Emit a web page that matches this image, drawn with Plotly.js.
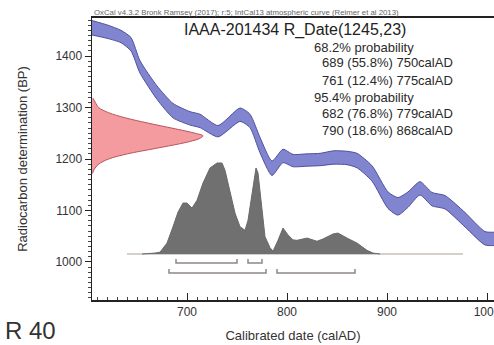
<!DOCTYPE html>
<html>
<head>
<meta charset="utf-8">
<script src="https://cdn.plot.ly/plotly-3.0.1.min.js"></script>
<style>
html,body{margin:0;padding:0;background:#fff;}
#chart{width:494px;height:345px;}
</style>
</head>
<body>
<div id="chart"></div>
<script>
// ---- Calibration curve (IntCal13): year AD, centre BP, half-width BP
const calYear  = [605, 621, 634, 644, 653, 670, 686, 703, 713, 731, 753, 763, 773, 785, 796, 806, 820, 833, 847, 860, 870, 885, 901, 911, 921, 933, 945, 958, 978, 998, 1010];
const calBP    = [1455,1447,1438,1423,1379,1329,1294,1279,1274,1254,1286,1274,1227,1182,1206,1197,1198,1199,1203,1202,1197,1172,1120,1108,1121,1143,1122,1116,1082,1046,1045];
const calHalf  = [14,  13,  12,  13,  12,  13,  14,  13,  13,  11,  13,  13,  15,  14,  13,  12,  12,  12,  13,  13,  14,  15,  16,  17,  15,  13,  13,  13,  14,  13,  13];

// ---- Radiocarbon date R_Date(1245,23): BP and relative density (red)
const redBP      = [1318, 1310, 1300, 1290, 1280, 1270, 1260, 1255, 1250, 1245, 1240, 1235, 1230, 1220, 1210, 1200, 1190, 1180, 1172];
const redDensity = [0.01, 0.03, 0.06, 0.15, 0.30, 0.50, 0.72, 0.83, 0.93, 1.00, 0.97, 0.90, 0.80, 0.56, 0.32, 0.15, 0.06, 0.02, 0.005];

// ---- Calibrated distribution (grey), year AD and relative probability
const histYear = [655, 663, 668, 673, 680, 686, 691, 696, 700, 705, 710, 716, 723, 730, 735, 738, 743, 748, 753, 758, 761, 765, 769, 771, 775, 778, 783, 786, 791, 796, 801, 806, 810, 820, 830, 836, 846, 851, 860, 870, 880, 886, 893];
const histProb = [0,   0.005,0.01,0.02,0.12,0.30,0.46,0.56,0.56,0.505,0.59,0.78,0.945,1.0,1.0,0.92,0.70,0.45,0.30,0.26,0.37,0.66,0.945,0.89,0.48,0.19,0.07,0.03,0.15,0.285,0.21,0.155,0.15,0.175,0.14,0.165,0.22,0.23,0.175,0.12,0.04,0.01,0];
const baseYear = [640, 976];

// ---- Calibrated ranges
const range68 = [[689, 750], [761, 775]];
const range95 = [[682, 779], [790, 868]];

// ---- Texts
const titleText  = "IAAA-201434 R_Date(1245,23)";
const headerText = "OxCal v4.3.2 Bronk Ramsey (2017); r:5; IntCal13 atmospheric curve (Reimer et al 2013)";
const probLines  = ["68.2% probability", "689 (55.8%) 750calAD", "761 (12.4%) 775calAD",
                    "95.4% probability", "682 (76.8%) 779calAD", "790 (18.6%) 868calAD"];
const yTicks = [1000, 1100, 1200, 1300, 1400];
const xTicks = [700, 800, 900, 1000];

const calUpper = calBP.map((v, i) => v + calHalf[i]);
const calLower = calBP.map((v, i) => v - calHalf[i]);

function bracket(ranges, level, top) {
  const x = [], y = [];
  ranges.forEach(r => { x.push(r[0], r[0], r[1], r[1], null); y.push(top, level, level, top, null); });
  return {x, y};
}
const b68 = bracket(range68, -0.099, -0.055);
const b95 = bracket(range95, -0.209, -0.165);

const traces = [
  { // red date distribution
    x: redDensity, y: redBP, xaxis: 'x2', yaxis: 'y', type: 'scatter', mode: 'lines',
    fill: 'tozerox', fillcolor: 'rgba(242,146,150,0.92)', line: {color: '#b9555e', width: 1, shape: 'spline'},
    hoverinfo: 'skip'
  },
  { // baseline of calibrated distribution
    x: baseYear, y: [0, 0], xaxis: 'x', yaxis: 'y2', type: 'scatter', mode: 'lines',
    line: {color: '#c9c0bc', width: 1.5}, hoverinfo: 'skip'
  },
  { // calibrated distribution
    x: histYear, y: histProb, xaxis: 'x', yaxis: 'y2', type: 'scatter', mode: 'lines',
    fill: 'tozeroy', fillcolor: '#707070', line: {color: '#6a6a6a', width: 1}, hoverinfo: 'skip'
  },
  { x: b68.x, y: b68.y, xaxis: 'x', yaxis: 'y2', type: 'scatter', mode: 'lines',
    line: {color: '#8e8686', width: 1.5}, connectgaps: false, hoverinfo: 'skip' },
  { x: b95.x, y: b95.y, xaxis: 'x', yaxis: 'y2', type: 'scatter', mode: 'lines',
    line: {color: '#8e8686', width: 1.5}, connectgaps: false, hoverinfo: 'skip' },
  { // calibration curve lower edge
    x: calYear, y: calLower, xaxis: 'x', yaxis: 'y', type: 'scatter', mode: 'lines',
    line: {color: '#4f509c', width: 1, shape: 'spline', smoothing: 0.6}, hoverinfo: 'skip'
  },
  { // calibration curve upper edge
    x: calYear, y: calUpper, xaxis: 'x', yaxis: 'y', type: 'scatter', mode: 'lines',
    fill: 'tonexty', fillcolor: '#8185d0', line: {color: '#4f509c', width: 1, shape: 'spline', smoothing: 0.6}, hoverinfo: 'skip'
  }
];

const W = 402, H = 282; // plot area in px
function px(xp) { return (xp - 92) / W; }
function py(yp) { return (300 - yp) / H; }

const probY = [47, 63, 80, 98, 113, 130];
const probX = [312, 320, 320, 312, 320, 320];

const annotations = [
  {text: titleText, xref: 'paper', yref: 'paper', x: px(295), y: py(30), xanchor: 'center', yanchor: 'middle',
   showarrow: false, font: {family: 'Liberation Sans, Arial, sans-serif', size: 16, color: '#222'}},
  {text: headerText, xref: 'paper', yref: 'paper', x: px(92), y: py(12), xanchor: 'left', yanchor: 'middle',
   showarrow: false, font: {family: 'Liberation Sans, Arial, sans-serif', size: 7.8, color: '#666'}},
  {text: 'R 40', xref: 'paper', yref: 'paper', x: px(3), y: py(330), xanchor: 'left', yanchor: 'middle',
   showarrow: false, font: {family: 'Liberation Sans, Arial, sans-serif', size: 24, color: '#333'}}
];
probLines.forEach((t, i) => annotations.push({
  text: t, xref: 'paper', yref: 'paper', x: px(probX[i]), y: py(probY[i]), xanchor: 'left', yanchor: 'middle',
  showarrow: false, font: {family: 'Liberation Sans, Arial, sans-serif', size: 13, color: '#2a2a2a'}
}));

const layout = {
  width: 494, height: 345,
  margin: {l: 92, r: 0, t: 18, b: 45, pad: 0},
  paper_bgcolor: '#ffffff', plot_bgcolor: '#ffffff',
  showlegend: false,
  font: {family: 'Liberation Sans, Arial, sans-serif', color: '#333'},
  xaxis: {
    range: [605, 1007], tickvals: xTicks, ticks: 'inside', ticklen: 7, tickwidth: 1, tickcolor: '#222',
    showline: true, linecolor: '#222', linewidth: 2, mirror: true, showgrid: false, zeroline: false,
    tickfont: {size: 12, color: '#333'}, ticklabeloverflow: 'allow',
    minor: {dtick: 10, tick0: 600, ticks: 'inside', ticklen: 3, tickcolor: '#444', showgrid: false},
    title: {text: 'Calibrated date (calAD)', font: {size: 13, color: '#333'}, standoff: 12}
  },
  yaxis: {
    range: [926, 1474], tickvals: yTicks, ticks: 'outside', ticklen: 6, tickwidth: 1, tickcolor: '#222',
    showline: true, linecolor: '#222', linewidth: 1.5, showgrid: false, zeroline: false,
    tickfont: {size: 12, color: '#333'},
    minor: {dtick: 10, tick0: 1000, ticks: 'outside', ticklen: 3, tickcolor: '#444', showgrid: false},
    title: {text: 'Radiocarbon determination (BP)', font: {size: 13, color: '#333'}, standoff: 25}
  },
  xaxis2: {overlaying: 'x', range: [0, W / 111], visible: false, fixedrange: true},
  yaxis2: {overlaying: 'y', range: [-46 / 91, 236 / 91], visible: false, fixedrange: true},
  annotations: annotations
};

Plotly.newPlot('chart', traces, layout, {displayModeBar: false, staticPlot: true});
</script>
</body>
</html>
